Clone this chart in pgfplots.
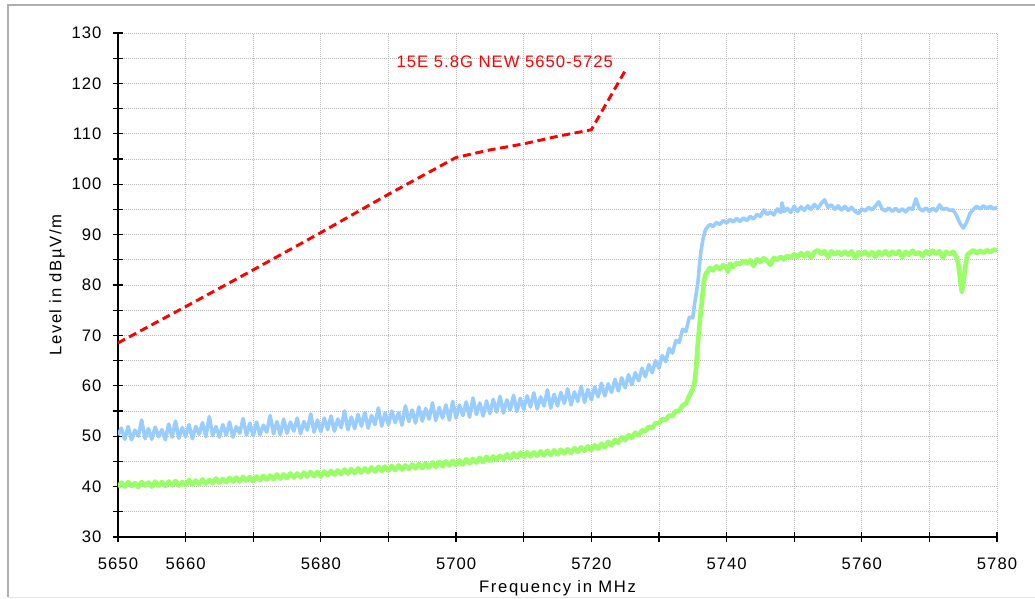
\documentclass[border=0pt]{standalone}
\usepackage{fontspec}
\usepackage{pgfplots}
\pgfplotsset{compat=1.18}
\newfontfamily\chartfont{Liberation Sans}[LetterSpace=6]
\newfontfamily\labelfont{Liberation Sans}[LetterSpace=10]
\definecolor{tracea}{RGB}{153,204,255}
\definecolor{traceb}{RGB}{153,255,102}
\definecolor{gridgray}{RGB}{185,185,185}
\definecolor{framegray}{RGB}{175,175,175}

\begin{document}
\begin{tikzpicture}
% page = 1035x599 px, 1 px = 0.75pt, plot area 879x504 px
\useasboundingbox (-88.5pt,-46.5pt) rectangle (687.75pt,402.75pt);
\draw[framegray, line width=1.4pt] (-82.5pt,-45pt) -- (-82.5pt,399pt) -- (690pt,399pt);
\draw[gray!20, line width=1pt] (-82.5pt,-45.5pt) -- (690pt,-45.5pt);
\begin{axis}[
    at={(0pt,0pt)}, anchor=south west,
    scale only axis,
    width=659.25pt, height=378pt,
    xmin=5650, xmax=5780, ymin=30, ymax=130,
    axis lines=left,
    axis line style={-, black, line width=1.1pt},
    xtick={5650,5660,...,5780},
    xticklabels={5650,5660,,5680,,5700,,5720,,5740,,5760,,5780},
    ytick={30,40,...,130},
    minor ytick={35,45,...,125},
    tick align=center,
    major tick length=8pt, minor tick length=8pt,
    every tick/.style={black, line width=0.9pt},
    minor tick style={black, line width=0.9pt},
    grid=both,
    major grid style={gridgray, line width=0.6pt, dash pattern=on 0.75pt off 0.75pt},
    minor grid style={gridgray, line width=0.6pt, dash pattern=on 0.75pt off 0.75pt},
    /pgf/number format/assume math mode=true,
    tick label style={font=\chartfont\fontsize{12.5}{14}\selectfont, inner sep=0pt},
    xticklabel style={anchor=base, yshift=-20.5pt},
    yticklabel style={anchor=east, xshift=-8.25pt},
    xlabel={Frequency in MHz},
    ylabel={Level in dBµV/m},
    label style={font=\labelfont\fontsize{12.5}{14}\selectfont, inner sep=0pt},
    xlabel style={at={(axis description cs:0.5,-0.111)}, anchor=base},
    ylabel style={at={(axis description cs:-0.0694,0.5)}, anchor=center},
]
% trace 1 (light blue)
\addplot[tracea, line width=2.7pt, line join=round] coordinates {
(5650,50.2) (5650.5,51.6) (5651,49.4) (5651.5,51.9) (5652,49.3) (5652.5,51.2) (5653,50.0) (5653.5,53.2) (5654,49.5) (5654.5,51.5)
(5655,49.4) (5655.5,51.8) (5656,49.9) (5656.5,51.3) (5657,49.3) (5657.5,52.4) (5658,49.8) (5658.5,53.0) (5659,49.6) (5659.5,51.7)
(5660,49.9) (5660.5,52.3) (5661,49.5) (5661.5,51.9) (5662,50.4) (5662.5,52.7) (5663,49.9) (5663.5,53.9) (5664,50.1) (5664.5,51.9)
(5665,49.8) (5665.5,52.3) (5666,50.2) (5666.5,52.8) (5667,49.8) (5667.5,51.9) (5668,50.6) (5668.5,53.5) (5669,50.2) (5669.5,52.6)
(5670,50.1) (5670.5,52.8) (5671,50.3) (5671.5,52.2) (5672,50.8) (5672.5,54.1) (5673,50.5) (5673.5,52.9) (5674,50.3) (5674.5,53.4)
(5675,50.6) (5675.5,52.8) (5676,51.0) (5676.5,53.6) (5677,50.5) (5677.5,52.9) (5678,51.2) (5678.5,54.4) (5679,50.8) (5679.5,53.2)
(5680,50.9) (5680.5,53.6) (5681,51.3) (5681.5,54.0) (5682,51.0) (5682.5,53.4) (5683,51.7) (5683.5,55.0) (5684,51.3) (5684.5,53.8)
(5685,51.5) (5685.5,54.3) (5686,52.0) (5686.5,54.7) (5687,51.6) (5687.5,54.1) (5688,52.3) (5688.5,55.6) (5689,52.0) (5689.5,54.6)
(5690,52.3) (5690.5,55.0) (5691,52.7) (5691.5,54.7) (5692,52.2) (5692.5,56.0) (5693,52.9) (5693.5,55.2) (5694,52.6) (5694.5,55.8)
(5695,53.0) (5695.5,55.5) (5696,53.4) (5696.5,56.6) (5697,53.1) (5697.5,55.7) (5698,53.6) (5698.5,56.2) (5699,53.2) (5699.5,56.9)
(5700,53.6) (5700.5,56.2) (5701,54.1) (5701.5,56.8) (5702,53.8) (5702.5,57.6) (5703,54.3) (5703.5,56.6) (5704,54.0) (5704.5,57.0)
(5705,54.5) (5705.5,57.3) (5706,54.8) (5706.5,57.9) (5707,54.6) (5707.5,57.2) (5708,55.2) (5708.5,58.1) (5709,54.9) (5709.5,57.5)
(5710,55.3) (5710.5,58.0) (5711,55.8) (5711.5,58.6) (5712,55.4) (5712.5,57.8) (5713,56.0) (5713.5,59.2) (5714,55.6) (5714.5,58.3)
(5715,56.0) (5715.5,58.7) (5716,56.5) (5716.5,59.4) (5717,56.2) (5717.5,58.8) (5718,56.9) (5718.5,59.9) (5719,56.7) (5719.5,59.3)
(5720,57.2) (5720.5,59.8) (5721,57.8) (5721.5,60.5) (5722,58.0) (5722.5,60.4) (5723,58.7) (5723.5,61.3) (5724,59.0) (5724.5,61.6)
(5725,59.6) (5725.5,62.2) (5726,60.2) (5726.5,62.6) (5727,61.0) (5727.5,63.5) (5728,61.8) (5728.5,64.2) (5729,62.6) (5729.5,65.0)
(5730,63.5) (5730.5,66.0) (5731,64.8) (5731.5,67.4) (5732,66.5) (5732.5,69.0) (5733,68.6) (5733.5,71.2) (5734,70.8) (5734.5,73.6)
(5735,73.5) (5735.3,76.5) (5735.6,79.0) (5735.8,81.0) (5736,84.0) (5736.2,86.5) (5736.4,88.2) (5736.6,89.6) (5736.8,90.6) (5737,91.2)
(5737.3,91.7) (5737.6,92.0) (5738,91.6) (5738.5,92.4) (5739,92.0) (5739.5,92.8) (5740,92.3) (5740.5,93.0) (5741,92.5) (5741.5,93.2)
(5742,92.6) (5742.5,93.3) (5743,92.8) (5743.5,93.6) (5744,93.1) (5744.5,94.0) (5745,93.6) (5745.5,94.9) (5746,94.0) (5746.5,94.5)
(5747,93.9) (5747.5,95.1) (5748,94.4) (5748.2,96.3) (5748.5,94.6) (5749,95.2) (5749.5,94.4) (5750,95.6) (5750.5,94.6) (5751,95.5)
(5751.5,94.8) (5752,95.7) (5752.5,95.0) (5753,96.0) (5753.5,95.2) (5754,96.2) (5754.5,96.9) (5755,95.4) (5755.5,95.9) (5756,95.0)
(5756.5,95.7) (5757,94.9) (5757.5,95.6) (5758,94.8) (5758.5,95.4) (5759,94.6) (5759.5,94.2) (5760,95.1) (5760.5,94.7) (5761,95.4)
(5761.5,94.9) (5762,95.6) (5762.5,96.5) (5763,95.1) (5763.5,94.7) (5764,95.3) (5764.5,94.6) (5765,95.2) (5765.5,94.6) (5766,95.1)
(5766.5,94.5) (5767,95.3) (5767.5,95.0) (5768,97.1) (5768.5,95.2) (5769,94.7) (5769.5,95.3) (5770,94.6) (5770.5,95.2) (5771,94.7)
(5771.5,95.9) (5772,95.0) (5772.5,95.2) (5773,94.8) (5773.5,94.9) (5774,93.8) (5774.5,92.3) (5775,91.3) (5775.5,92.4) (5776,94.2)
(5776.5,95.0) (5777,95.6) (5777.5,95.1) (5778,95.7) (5778.5,95.2) (5779,95.6) (5779.5,95.1) (5780,95.4)
};
% trace 2 (light green)
\addplot[traceb, line width=3.5pt, line join=round] coordinates {
(5650,39.9) (5650.5,40.8) (5651,40.0) (5651.5,40.9) (5652,40.1) (5652.5,40.7) (5653,39.9) (5653.5,40.9) (5654,40.2) (5654.5,40.8)
(5655,40.0) (5655.5,41.0) (5656,40.2) (5656.5,40.9) (5657,40.1) (5657.5,41.0) (5658,40.3) (5658.5,41.1) (5659,40.2) (5659.5,40.9)
(5660,40.3) (5660.5,41.3) (5661,40.4) (5661.5,41.2) (5662,40.5) (5662.5,41.4) (5663,40.6) (5663.5,41.3) (5664,40.7) (5664.5,41.6)
(5665,40.8) (5665.5,41.5) (5666,40.9) (5666.5,41.7) (5667,41.0) (5667.5,41.8) (5668,41.0) (5668.5,41.9) (5669,41.2) (5669.5,41.9)
(5670,41.1) (5670.5,42.0) (5671,41.3) (5671.5,42.1) (5672,41.4) (5672.5,42.2) (5673,41.5) (5673.5,42.4) (5674,41.6) (5674.5,42.4)
(5675,41.7) (5675.5,42.6) (5676,41.8) (5676.5,42.6) (5677,41.9) (5677.5,42.8) (5678,42.0) (5678.5,42.9) (5679,42.1) (5679.5,42.9)
(5680,42.0) (5680.5,43.0) (5681,42.3) (5681.5,43.1) (5682,42.4) (5682.5,43.2) (5683,42.5) (5683.5,43.4) (5684,42.6) (5684.5,43.5)
(5685,42.7) (5685.5,43.6) (5686,42.8) (5686.5,43.6) (5687,42.9) (5687.5,43.8) (5688,43.0) (5688.5,43.9) (5689,43.1) (5689.5,44.0)
(5690,43.2) (5690.5,44.1) (5691,43.3) (5691.5,44.2) (5692,43.4) (5692.5,44.2) (5693,43.5) (5693.5,44.4) (5694,43.6) (5694.5,44.5)
(5695,43.7) (5695.5,44.6) (5696,43.8) (5696.5,44.8) (5697,43.9) (5697.5,44.9) (5698,44.0) (5698.5,45.0) (5699,44.2) (5699.5,45.1)
(5700,44.3) (5700.5,45.2) (5701,44.4) (5701.5,45.4) (5702,44.6) (5702.5,45.5) (5703,44.8) (5703.5,45.7) (5704,44.9) (5704.5,45.9)
(5705,45.1) (5705.5,46.0) (5706,45.3) (5706.5,46.1) (5707,45.4) (5707.5,46.4) (5708,45.6) (5708.5,46.6) (5709,45.8) (5709.5,46.7)
(5710,45.9) (5710.5,46.8) (5711,46.0) (5711.5,46.8) (5712,46.1) (5712.5,47.0) (5713,46.2) (5713.5,47.1) (5714,46.3) (5714.5,47.2)
(5715,46.4) (5715.5,47.3) (5716,46.6) (5716.5,47.4) (5717,46.7) (5717.5,47.6) (5718,46.9) (5718.5,47.8) (5719,47.1) (5719.5,48.0)
(5720,47.2) (5720.5,48.2) (5721,47.5) (5721.5,48.5) (5722,47.8) (5722.5,48.9) (5723,48.2) (5723.5,49.3) (5724,48.7) (5724.5,49.8)
(5725,49.2) (5725.5,50.2) (5726,49.7) (5726.5,50.7) (5727,50.2) (5727.5,51.2) (5728,51.0) (5728.5,51.9) (5729,51.6) (5729.5,52.6)
(5730,52.6) (5730.5,53.4) (5731,53.2) (5731.5,54.1) (5732,54.0) (5732.5,55.0) (5733,55.0) (5733.5,56.1) (5734,56.5) (5734.5,58.0)
(5735,59.3) (5735.3,61.0) (5735.5,63.5) (5735.7,67.5) (5735.9,70.5) (5736.1,73.5) (5736.3,76.0) (5736.5,78.8) (5736.7,81.0) (5736.9,82.2)
(5737.2,82.6) (5737.5,83.4) (5738,82.9) (5738.5,83.7) (5739,83.2) (5739.5,83.9) (5740,83.4) (5740.2,82.6) (5740.5,84.2) (5741,83.6)
(5741.5,84.4) (5742,84.2) (5742.5,84.8) (5743,84.3) (5743.5,84.9) (5744,83.8) (5744.5,85.1) (5745,84.6) (5745.5,85.3) (5746,84.8)
(5746.5,84.0) (5747,85.4) (5747.5,85.0) (5748,85.6) (5748.5,85.1) (5749,85.8) (5749.5,85.4) (5750,86.1) (5750.5,85.6) (5751,86.3)
(5751.5,85.7) (5752,86.4) (5752.5,85.4) (5753,86.5) (5753.5,86.9) (5754,86.2) (5754.5,86.7) (5755,85.5) (5755.5,86.7) (5756,86.1)
(5756.5,86.6) (5757,86.0) (5757.5,86.6) (5758,86.0) (5758.5,86.7) (5759,85.3) (5759.5,86.5) (5760,86.0) (5760.5,86.6) (5761,85.9)
(5761.5,86.5) (5762,85.6) (5762.5,86.6) (5763,86.0) (5763.5,86.7) (5764,85.9) (5764.5,86.6) (5765,86.1) (5765.5,86.7) (5766,85.5)
(5766.5,86.6) (5767,86.0) (5767.5,86.8) (5768,86.1) (5768.5,86.5) (5769,85.7) (5769.5,86.7) (5770,86.1) (5770.5,86.8) (5771,86.2)
(5771.5,86.7) (5772,85.4) (5772.5,86.6) (5773,86.1) (5773.5,86.6) (5774,85.6) (5774.3,84.0) (5774.6,80.5) (5774.8,78.6) (5775,80.3)
(5775.3,83.5) (5775.6,86.0) (5776,86.4) (5776.5,86.9) (5777,86.3) (5777.5,86.8) (5778,86.4) (5778.5,86.9) (5779,86.5) (5779.5,87.0)
(5780,86.9)
};
% limit line (red dashed)
\addplot[red, line width=2.2pt, dash pattern=on 6pt off 3.5pt] coordinates {
(5650,68.5) (5660,75.7) (5670,83.0) (5680,90.4) (5690,98.0) (5700,105.3)
(5705,106.8) (5710,108.0) (5715,109.5) (5720,110.8) (5725,122.5)
};
\node[red, font=\chartfont\fontsize{12.5}{14}\selectfont, inner sep=0pt, anchor=center]
    at (axis cs:5707.2,124.3) {15E 5.8G NEW 5650-5725};
\end{axis}
\end{tikzpicture}
\end{document}
